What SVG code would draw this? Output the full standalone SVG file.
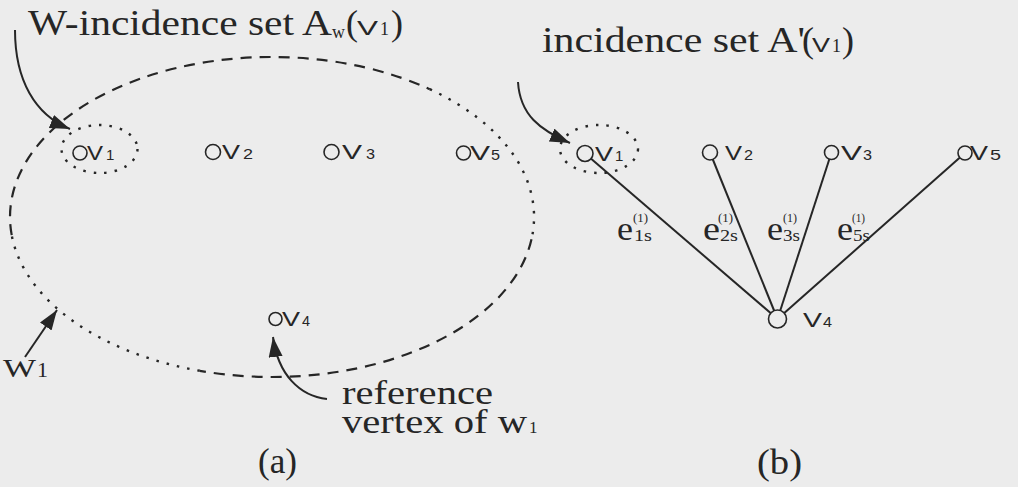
<svg xmlns="http://www.w3.org/2000/svg" width="1018" height="487" viewBox="0 0 1018 487">
<style>
.serif{font-family:"Liberation Serif","Times New Roman",serif;fill:#262626}
.sans{font-family:"Liberation Sans",Arial,sans-serif;fill:#262626}
.big{font-size:36px}
.vl{font-size:21px}
.vs{font-size:15px}
.node circle{fill:#ececec;stroke:#262626;stroke-width:1.6}
.dash{fill:none;stroke:#262626;stroke-width:2.2;stroke-dasharray:11 8}
.dot{fill:none;stroke:#262626;stroke-width:2.4;stroke-dasharray:2.5 8}
.arr{fill:none;stroke:#262626;stroke-width:2;marker-end:url(#ah)}
.edge{stroke:#262626;stroke-width:2}
</style>
<defs>
<marker id="ah" markerUnits="userSpaceOnUse" markerWidth="22" markerHeight="16" refX="20" refY="7" orient="auto"><path d="M0,0 L20,7 L0,14 z" fill="#262626"/></marker>
</defs>
<rect width="1018" height="487" fill="#ececec"/>

<!-- (a) W-incidence set -->
<g id="wset">
<path class="dash" d="M11.7,235.1 A262,160 0 0 1 429.7,89.2"/>
<path class="dot" d="M429.7,89.2 A262,160 0 0 1 531.5,239.3"/>
<path class="dash" d="M531.5,239.3 A262,160 0 0 1 199.8,370.8"/>
<path class="dot" d="M199.8,370.8 A262,160 0 0 1 11.7,235.1"/>
</g>
<g id="aset-a"><ellipse class="dot" cx="99.5" cy="149" rx="38" ry="24"/></g>
<g id="aset-b"><ellipse class="dot" cx="599" cy="149" rx="39" ry="24"/></g>

<g id="connectors">
<path class="arr" d="M15,30 C15,80 35,115 70,129"/>
<path class="arr" d="M25,357 L57,310"/>
<path class="arr" d="M327,399 C300,396 278,375 273,337"/>
<path class="arr" d="M518,82 C520,115 540,130 570,143"/>
<line class="edge" x1="777.5" y1="319" x2="585" y2="153.5"/>
<line class="edge" x1="777.5" y1="319" x2="710" y2="152.5"/>
<line class="edge" x1="777.5" y1="319" x2="831.5" y2="152.5"/>
<line class="edge" x1="777.5" y1="319" x2="965" y2="153"/>
</g>

<!-- labels -->
<g id="title-a">
<text class="serif big" x="28" y="35" textLength="304" lengthAdjust="spacingAndGlyphs">W-incidence set A</text>
<text class="serif" x="332" y="38" font-size="19" textLength="13" lengthAdjust="spacingAndGlyphs">w</text>
<text class="serif big" x="346" y="35">(</text>
<text class="sans vl" x="357" y="35" textLength="21" lengthAdjust="spacingAndGlyphs">V</text>
<text class="serif" x="380" y="35" font-size="18">1</text>
<text class="serif big" x="391" y="35">)</text>
</g>
<g id="title-b">
<text class="serif big" x="542" y="52" textLength="263" lengthAdjust="spacingAndGlyphs">incidence set A'</text>
<text class="serif big" x="802" y="52">(</text>
<text class="sans vl" x="812" y="52" textLength="18" lengthAdjust="spacingAndGlyphs">V</text>
<text class="serif" x="832" y="52" font-size="18">1</text>
<text class="serif big" x="842" y="52">)</text>
</g>
<g id="w1label">
<text class="serif" x="3" y="377" font-size="26" textLength="33" lengthAdjust="spacingAndGlyphs">W</text>
<text class="serif" x="37" y="377" font-size="22">1</text>
</g>
<g id="reflabel">
<text class="serif" x="342" y="404" font-size="34" textLength="151" lengthAdjust="spacingAndGlyphs">reference</text>
<text class="serif" x="342" y="433" font-size="34" textLength="185" lengthAdjust="spacingAndGlyphs">vertex of w</text>
<text class="serif" x="529" y="433" font-size="17">1</text>
</g>
<text class="serif big" x="258" y="473" textLength="39" lengthAdjust="spacingAndGlyphs">(a)</text>
<text class="serif big" x="757" y="474" textLength="45" lengthAdjust="spacingAndGlyphs">(b)</text>

<!-- nodes (a) -->
<g id="a-v1" class="node"><circle cx="80" cy="153" r="7"/><text class="sans vl" x="87" y="160" textLength="16" lengthAdjust="spacingAndGlyphs">V</text><text class="sans vs" x="106" y="160">1</text></g>
<g id="a-v2" class="node"><circle cx="213" cy="152" r="7.5"/><text class="sans vl" x="222" y="159" textLength="18" lengthAdjust="spacingAndGlyphs">V</text><text class="sans vs" x="243" y="159" textLength="10" lengthAdjust="spacingAndGlyphs">2</text></g>
<g id="a-v3" class="node"><circle cx="331.5" cy="152" r="7.5"/><text class="sans vl" x="342" y="159" textLength="20" lengthAdjust="spacingAndGlyphs">V</text><text class="sans vs" x="366" y="159" textLength="9" lengthAdjust="spacingAndGlyphs">3</text></g>
<g id="a-v5" class="node"><circle cx="463.5" cy="153" r="7"/><text class="sans vl" x="470" y="160" textLength="20" lengthAdjust="spacingAndGlyphs">V</text><text class="sans vs" x="491" y="160" textLength="9" lengthAdjust="spacingAndGlyphs">5</text></g>
<g id="a-v4" class="node"><circle cx="275.5" cy="319" r="6.5"/><text class="sans vl" x="282" y="326" textLength="18" lengthAdjust="spacingAndGlyphs">V</text><text class="sans vs" x="302" y="326" textLength="8" lengthAdjust="spacingAndGlyphs">4</text></g>

<!-- nodes (b) -->
<g id="b-v1" class="node"><circle cx="585" cy="153.5" r="8"/><text class="sans vl" x="595" y="161" textLength="18" lengthAdjust="spacingAndGlyphs">V</text><text class="sans vs" x="615" y="161">1</text></g>
<g id="b-v2" class="node"><circle cx="710" cy="152.5" r="7.5"/><text class="sans vl" x="725" y="160" textLength="17" lengthAdjust="spacingAndGlyphs">V</text><text class="sans vs" x="744" y="160" textLength="9" lengthAdjust="spacingAndGlyphs">2</text></g>
<g id="b-v3" class="node"><circle cx="831.5" cy="152.5" r="7"/><text class="sans vl" x="841" y="160" textLength="21" lengthAdjust="spacingAndGlyphs">V</text><text class="sans vs" x="863" y="160" textLength="9" lengthAdjust="spacingAndGlyphs">3</text></g>
<g id="b-v5" class="node"><circle cx="965" cy="153" r="7"/><text class="sans vl" x="970" y="160" textLength="18" lengthAdjust="spacingAndGlyphs">V</text><text class="sans vs" x="990" y="160" textLength="11" lengthAdjust="spacingAndGlyphs">5</text></g>
<g id="b-v4" class="node"><circle cx="777.5" cy="319" r="9"/><text class="sans vl" x="803" y="327" textLength="19" lengthAdjust="spacingAndGlyphs">V</text><text class="sans vs" x="823" y="327" textLength="9" lengthAdjust="spacingAndGlyphs">4</text></g>

<!-- edge labels -->
<g id="e1s"><text class="serif" x="617" y="240" font-size="34" textLength="16" lengthAdjust="spacingAndGlyphs">e</text><text class="serif" x="634" y="241" font-size="16" textLength="18" lengthAdjust="spacingAndGlyphs">1s</text><text class="serif" x="633" y="222" font-size="12" textLength="15" lengthAdjust="spacingAndGlyphs">(1)</text></g>
<g id="e2s"><text class="serif" x="703" y="240" font-size="34" textLength="17" lengthAdjust="spacingAndGlyphs">e</text><text class="serif" x="720" y="241" font-size="16" textLength="18" lengthAdjust="spacingAndGlyphs">2s</text><text class="serif" x="718" y="222" font-size="12" textLength="15" lengthAdjust="spacingAndGlyphs">(1)</text></g>
<g id="e3s"><text class="serif" x="767" y="240" font-size="34" textLength="16" lengthAdjust="spacingAndGlyphs">e</text><text class="serif" x="783" y="241" font-size="16" textLength="17" lengthAdjust="spacingAndGlyphs">3s</text><text class="serif" x="783" y="222" font-size="12" textLength="14" lengthAdjust="spacingAndGlyphs">(1)</text></g>
<g id="e5s"><text class="serif" x="837" y="240" font-size="34" textLength="16" lengthAdjust="spacingAndGlyphs">e</text><text class="serif" x="853" y="241" font-size="16" textLength="17" lengthAdjust="spacingAndGlyphs">5s</text><text class="serif" x="852" y="222" font-size="12" textLength="13" lengthAdjust="spacingAndGlyphs">(1)</text></g>
</svg>
